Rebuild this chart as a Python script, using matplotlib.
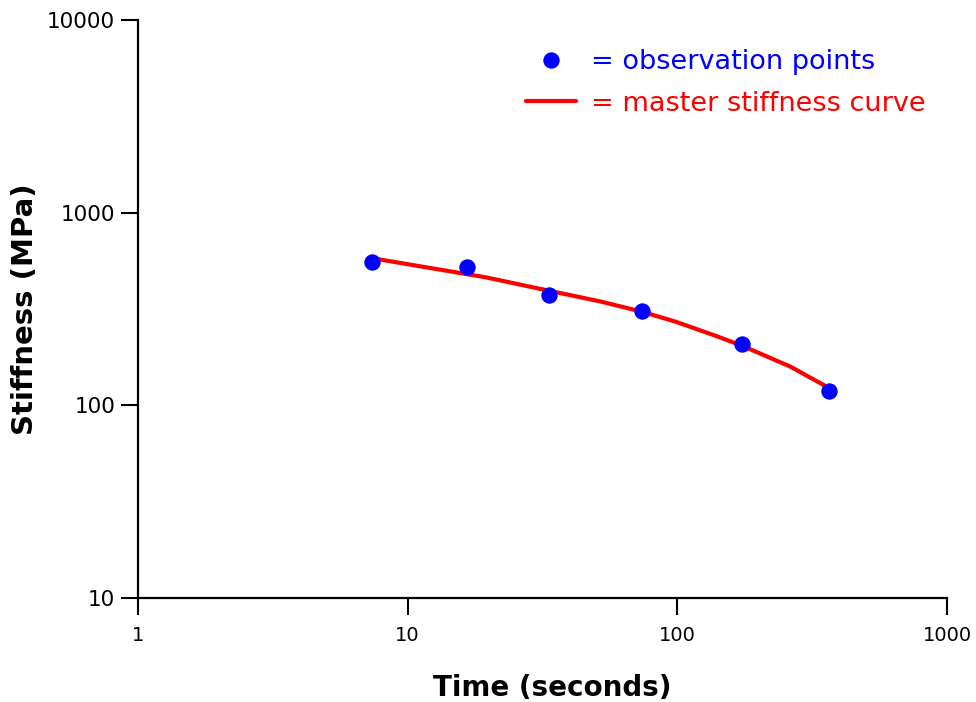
import matplotlib
matplotlib.use("Agg")
import matplotlib.pyplot as plt

# Observation points
obs_time = [7.40, 16.6, 33.4, 74.0, 173.6, 364.4]
obs_stiffness = [553, 521, 374, 310, 207, 119]

# Master stiffness curve
curve_time = [7.40, 11.66, 19.45, 31.08, 51.86, 74.0, 98.3, 138.2, 173.6, 262.1, 365.6]
curve_stiffness = [580, 521, 462, 402, 346, 306, 272, 230, 204, 159, 123]

x_ticks = [1, 10, 100, 1000]
y_ticks = [10, 100, 1000, 10000]

fig = plt.figure(figsize=(9.76, 7.02), dpi=100)
ax = fig.add_axes([138/976, 1-598/702, (947-138)/976, (598-20)/702])

ax.plot(curve_time, curve_stiffness, color='#ff0000', lw=3.0, solid_capstyle='round',
        label='= master stiffness curve', zorder=2)
ax.plot(obs_time, obs_stiffness, 'o', color='#0000ff', ms=11.8, mec='none',
        label='= observation points', zorder=3)

ax.set_xscale('log')
ax.set_yscale('log')
ax.set_xlim(1, 1000)
ax.set_ylim(10, 10000)
ax.set_xticks(x_ticks)
ax.set_xticklabels([str(t) for t in x_ticks])
ax.set_yticks(y_ticks)
ax.set_yticklabels([str(t) for t in y_ticks])
ax.minorticks_off()

for s in ['top', 'right']:
    ax.spines[s].set_visible(False)
for s in ['left', 'bottom']:
    ax.spines[s].set_linewidth(1.6)
ax.tick_params(axis='both', direction='out', length=12.5, width=1.5, colors='black')
ax.tick_params(axis='y', labelsize=15.5, pad=4)
ax.tick_params(axis='x', labelsize=14, pad=8)

ax.set_xlabel('Time (seconds)', fontsize=20, fontweight='bold')
ax.xaxis.set_label_coords(0.5 + 10/809, -(688-598)/578, transform=ax.transAxes)
ax.xaxis.label.set_va('center')
ax.set_ylabel('Stiffness (MPa)', fontsize=21, fontweight='bold')
ax.yaxis.set_label_coords(-(138-25)/809, 0.5, transform=ax.transAxes)
ax.yaxis.label.set_va('center')

handles, labels = ax.get_legend_handles_labels()
leg = ax.legend(handles[::-1], labels[::-1], loc='upper right', frameon=False,
                fontsize=19.5, handlelength=1.85, bbox_to_anchor=(0.973, 0.949),
                handletextpad=0.55, borderaxespad=0.0, borderpad=0.0, labelspacing=0.56)
leg.texts[0].set_color('#0000ff')
leg.texts[1].set_color('#ff0000')

fig.savefig('out.png', dpi=100)
